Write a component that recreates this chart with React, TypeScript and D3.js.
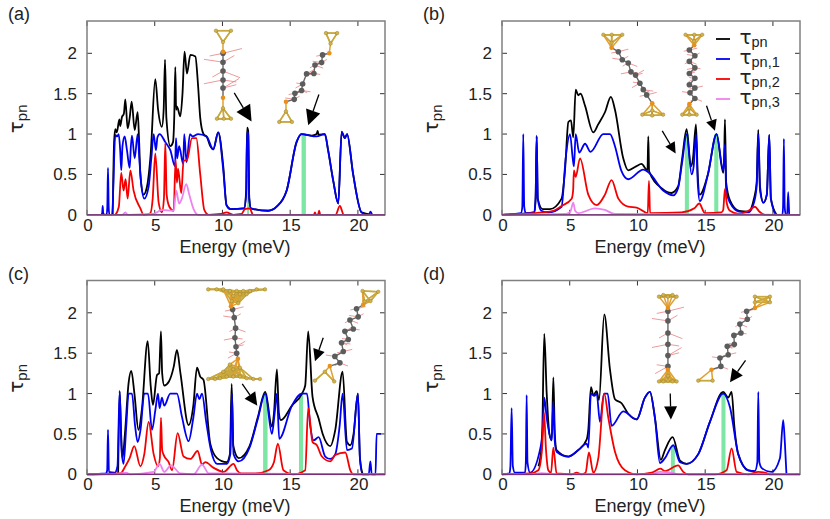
import * as d3 from "d3";

type Pt = [number, number];

const xTicks = [0, 5, 10, 15, 20];
const yTicks = [0, 0.5, 1, 1.5, 2];
const yTickLabels = ["0", "0.5", "1", "1.5", "2"];
const legendLabels = ["pn", "pn,1", "pn,2", "pn,3"];
const colors = ["#000000", "#0000f0", "#f50000", "#ee82ee"];

// panel (a)
const aTotal: Pt[] = [[1.9, 0], [2.0, 0.9], [2.09, 1.06], [2.2, 1.02], [2.39, 1.18], [2.45, 1.1], [2.58, 1.21], [2.72, 1.25], [2.83, 1.43], [3.0, 1.07], [3.15, 1.2], [3.3, 1.4], [3.52, 1.05], [3.74, 1.27], [3.85, 0.9], [3.94, 0.5], [4.18, 0.25], [4.43, 0.35], [4.7, 0.75], [5.04, 1.68], [5.25, 1.3], [5.53, 1.09], [5.66, 1.3], [5.76, 1.92], [5.86, 1.2], [6.15, 0.85], [6.35, 0.9], [6.44, 1.2], [6.52, 1.83], [6.58, 1.3], [6.64, 1.34], [6.89, 1.22], [7.05, 1.5], [7.2, 2.02], [7.38, 1.75], [7.63, 1.98], [8.0, 1.96], [8.2, 1.6], [8.36, 1.2], [8.6, 1.0], [8.86, 0.96], [9.1, 0.85], [9.32, 0.81], [9.69, 1.02], [10.06, 0.6], [10.3, 0.12], [10.6, 0.07], [11.6, 0.08], [11.75, 0.3], [11.82, 1.08], [11.9, 1.04], [11.98, 0.2], [12.1, 0.08], [13.38, 0.05], [14, 0.1], [14.74, 0.3], [15.47, 0.9], [15.84, 1.0], [16.6, 0.98], [16.95, 1.0], [17.03, 1.04], [17.1, 0.99], [17.56, 1.0], [17.8, 0.8], [18.18, 0.42], [18.55, 0.14], [18.8, 1.03], [19.04, 0.95], [19.2, 1.0], [19.65, 0.5], [20.27, 0.03], [21, 0]];
const aCh1: Pt[] = [[1.05, 0], [1.12, 0.02], [1.16, 0.11], [1.2, 0.01], [1.45, 0], [1.5, 0.1], [1.55, 0.58], [1.6, 0.1], [1.65, 0], [1.85, 0], [2.09, 0.99], [2.22, 0.97], [2.34, 1.0], [2.45, 0.8], [2.53, 0.55], [2.62, 0.85], [2.78, 0.97], [2.95, 0.8], [3.15, 0.58], [3.24, 0.85], [3.32, 0.98], [3.52, 0.7], [3.74, 1.0], [3.86, 0.7], [3.99, 0.4], [4.23, 0.2], [4.55, 0.35], [4.75, 0.7], [4.92, 1.0], [5.09, 0.8], [5.2, 0.96], [5.36, 1.0], [5.78, 0.9], [6.15, 0.8], [6.5, 0.6], [6.57, 0.95], [6.66, 0.7], [6.8, 0.85], [7.1, 0.63], [7.18, 1.0], [7.35, 0.65], [7.6, 1.0], [7.8, 0.97], [8.2, 1.0], [8.83, 0.97], [9.32, 0.81], [9.69, 1.02], [10.06, 0.55], [10.3, 0.12], [10.6, 0.07], [11.6, 0.08], [11.75, 0.25], [11.82, 1.03], [11.9, 1.0], [11.98, 0.2], [12.1, 0.08], [13.38, 0.05], [14, 0.1], [14.74, 0.3], [15.47, 0.9], [15.84, 1.0], [16.95, 0.97], [17.56, 1.0], [17.8, 0.8], [18.18, 0.42], [18.55, 0.14], [18.8, 1.02], [19.04, 0.95], [19.2, 1.0], [19.65, 0.5], [20.27, 0.03], [20.8, 0], [20.93, 0.04], [21.05, 0]];
const aCh2: Pt[] = [[2.1, 0], [2.35, 0.1], [2.53, 0.52], [2.7, 0.3], [2.85, 0.44], [3.0, 0.2], [3.2, 0.55], [3.44, 0.3], [3.94, 0.08], [4.18, 0], [4.67, 0.02], [4.85, 0.2], [5.04, 0.76], [5.29, 0.15], [5.53, 0.03], [5.68, 0.2], [5.78, 0.89], [5.88, 0.25], [6.08, 0.1], [6.4, 0.05], [6.54, 0.68], [6.64, 0.4], [6.72, 0.57], [6.96, 0.27], [7.13, 0.67], [7.38, 0.68], [7.75, 0.95], [8.07, 0.95], [8.36, 0.5], [8.66, 0.06], [8.98, 0], [9.9, 0.01], [10.3, 0.03], [10.8, 0], [11.4, 0.01], [11.66, 0.07], [12.0, 0.08], [12.27, 0], [16.75, 0], [16.83, 0.03], [16.9, 0], [17.05, 0], [17.14, 0.05], [17.22, 0], [18.35, 0], [18.67, 0.11], [18.95, 0], [22, 0]];
const aCh3: Pt[] = [[0, 0], [2.6, 0], [2.83, 0.03], [3.0, 0], [4.9, 0.01], [5.53, 0.06], [6.4, 0.05], [6.59, 0.3], [6.8, 0.14], [7.0, 0.2], [7.33, 0.38], [7.55, 0.25], [7.87, 0.07], [8.2, 0], [22, 0]];

// panel (b)
const bTotal: Pt[] = [[0, 0], [2.4, 0.03], [2.48, 0.2], [2.56, 0.98], [2.64, 0.2], [3.0, 0.07], [3.54, 0.07], [4.4, 0.2], [4.65, 0.55], [4.9, 1.15], [5.09, 1.17], [5.26, 0.96], [5.44, 1.55], [5.63, 1.48], [5.8, 1.5], [6.13, 1.35], [6.74, 1.02], [7.1, 1.12], [7.6, 1.27], [8.04, 1.46], [8.34, 1.3], [8.95, 0.7], [9.32, 0.55], [9.9, 0.6], [10.3, 0.63], [10.74, 0.55], [10.8, 0.97], [10.86, 0.54], [11.78, 0.33], [12.5, 0.27], [13, 0.35], [13.3, 0.7], [13.63, 1.06], [13.95, 0.6], [14.1, 0.7], [14.32, 1.12], [14.45, 0.5], [14.6, 0.25], [15.2, 0.5], [15.84, 1.0], [16.33, 0.52], [16.4, 0.7], [16.46, 1.18], [16.55, 0.4], [16.83, 0.18], [17.5, 0.05], [18.18, 0.04], [18.6, 0.2], [18.8, 0.4], [18.92, 1.05], [19.05, 0.35], [19.3, 0.15], [19.55, 0.25], [19.73, 0.99], [19.85, 0.2], [20.27, 0]];
const bCh1: Pt[] = [[0, 0], [1.4, 0.02], [1.5, 0.1], [1.57, 1.0], [1.64, 0.1], [1.75, 0.02], [2.35, 0.03], [2.48, 0.2], [2.56, 0.97], [2.64, 0.2], [2.9, 0.05], [3.42, 0.03], [4.4, 0.1], [4.7, 0.7], [5.02, 1.0], [5.22, 0.7], [5.31, 0.6], [5.44, 1.0], [5.7, 0.77], [6.13, 0.88], [6.54, 0.78], [7.48, 1.0], [7.97, 1.0], [8.34, 0.85], [8.8, 0.55], [9.32, 0.44], [10.43, 0.56], [10.85, 0.52], [11.9, 0.3], [12.64, 0.24], [13, 0.33], [13.3, 0.65], [13.63, 1.0], [14, 0.5], [14.15, 0.6], [14.32, 1.0], [14.45, 0.4], [14.6, 0.17], [15.2, 0.5], [15.84, 1.0], [16.33, 0.55], [16.4, 0.7], [16.46, 0.87], [16.55, 0.3], [16.83, 0.15], [17.5, 0.04], [18.18, 0.03], [18.6, 0.15], [18.8, 0.35], [18.92, 1.0], [19.05, 0.3], [19.3, 0.15], [19.55, 0.25], [19.73, 0.99], [19.85, 0.2], [20.27, 0], [20.7, 0], [20.75, 0.1], [20.81, 0.94], [20.87, 0.1], [20.95, 0], [21.05, 0], [21.13, 0.28], [21.2, 0]];
const bCh2: Pt[] = [[0, 0], [2.93, 0.03], [3.8, 0.05], [4.4, 0.11], [5.14, 0.2], [5.25, 0.3], [5.31, 0.55], [5.44, 0.47], [5.76, 0.7], [6.37, 0.25], [6.99, 0.12], [7.6, 0.25], [8.09, 0.43], [8.59, 0.2], [9.32, 0.1], [9.94, 0.09], [10.76, 0.02], [10.85, 0.42], [10.93, 0.02], [13.26, 0.03], [14.2, 0.08], [14.56, 0.14], [14.98, 0.02], [16.2, 0.03], [16.33, 0.06], [16.46, 0.32], [16.6, 0.14], [16.83, 0.05], [17.5, 0.01], [18.2, 0.05], [18.67, 0.1], [19, 0.04], [19.41, 0], [22, 0]];
const bCh3: Pt[] = [[0, 0], [4.7, 0.01], [5.05, 0.04], [5.26, 0.15], [5.4, 0.05], [5.63, 0.02], [6.86, 0.08], [7.6, 0.06], [8.34, 0.01], [22, 0]];

// panel (c)
const cTotal: Pt[] = [[2.3, 0.02], [2.41, 1.03], [2.52, 0.5], [2.62, 0.2], [2.8, 0.5], [3.07, 1.13], [3.27, 1.28], [3.5, 1.0], [3.8, 0.55], [4.05, 0.8], [4.48, 1.65], [4.7, 1.1], [4.87, 0.86], [5.17, 1.23], [5.32, 1.25], [5.46, 1.77], [5.55, 1.25], [5.7, 1.1], [6.05, 1.15], [6.4, 1.33], [6.64, 1.54], [6.9, 1.25], [7.5, 0.61], [7.85, 0.85], [8.12, 1.32], [8.36, 1.21], [8.6, 1.17], [9.1, 0.38], [9.6, 0.2], [10.3, 0.15], [10.55, 0.25], [10.68, 1.12], [10.8, 0.35], [11.2, 0.2], [12, 0.35], [12.6, 0.7], [13.16, 1.02], [13.65, 0.59], [13.8, 0.75], [14.02, 1.3], [14.17, 0.75], [14.31, 0.67], [15.13, 0.85], [15.87, 1.0], [16.11, 1.1], [16.33, 1.77], [16.65, 0.96], [17.1, 0.69], [17.4, 0.5], [17.96, 0.35], [18.33, 0.55], [18.87, 1.27], [19.19, 0.4], [19.44, 0.36], [19.68, 0.5], [20, 1.0], [20.15, 0.2], [20.35, 0]];
const cCh1: Pt[] = [[0, 0], [1.4, 0.01], [1.49, 0.05], [1.55, 0.55], [1.62, 0.03], [2.05, 0.02], [2.25, 0.1], [2.41, 1.03], [2.55, 0.3], [2.7, 0.13], [2.9, 0.6], [3.07, 1.0], [3.32, 1.0], [3.55, 0.6], [3.74, 0.4], [3.95, 0.55], [4.23, 1.0], [4.5, 1.0], [4.8, 0.55], [5.05, 0.8], [5.24, 1.0], [5.36, 0.82], [5.53, 0.95], [5.7, 0.85], [6.15, 1.0], [6.64, 1.0], [7.0, 0.72], [7.5, 0.41], [7.85, 0.7], [8.12, 1.0], [8.29, 0.93], [8.49, 1.0], [8.8, 0.65], [9.15, 0.3], [9.6, 0.13], [10.33, 0.13], [10.58, 0.25], [10.7, 1.0], [10.82, 0.25], [11.2, 0.16], [12, 0.33], [12.6, 0.68], [13.16, 1.0], [13.65, 0.5], [13.85, 0.75], [14.02, 1.0], [14.19, 0.44], [15.13, 0.85], [15.87, 1.0], [16.24, 1.0], [16.48, 0.6], [16.73, 0.42], [17.1, 0.46], [17.59, 0.22], [17.96, 0.19], [18.33, 0.25], [18.65, 0.6], [18.87, 1.0], [19.19, 0.3], [19.56, 0.32], [20, 1.0], [20.15, 0.2], [20.35, 0], [20.8, 0], [20.92, 0.16], [21.02, 0], [21.3, 0], [21.38, 0.5], [21.7, 0.5]];
const cCh2: Pt[] = [[0, 0], [2.46, 0.01], [2.83, 0.1], [3.15, 0.2], [3.49, 0.35], [3.94, 0.1], [4.23, 0.25], [4.55, 0.65], [4.92, 0.25], [5.25, 0.1], [5.38, 0.2], [5.46, 0.7], [5.55, 0.3], [5.66, 0.24], [6.03, 0.15], [6.28, 0.05], [6.69, 0.51], [7.13, 0.22], [7.63, 0.19], [8.17, 0.29], [8.49, 0.12], [8.73, 0.15], [9.35, 0.08], [10.09, 0.03], [10.82, 0.13], [11.07, 0.05], [11.4, 0.01], [12.42, 0.01], [13.4, 0.05], [13.8, 0.15], [14.09, 0.38], [14.5, 0.05], [15.25, 0], [16.11, 0.05], [16.33, 0.82], [16.65, 0.4], [16.97, 0.36], [17.34, 0.22], [17.96, 0.16], [18.33, 0.24], [19.07, 0.27], [19.44, 0.05], [19.68, 0], [22, 0]];
const cCh3: Pt[] = [[0, 0], [2.09, 0], [2.88, 0.02], [3.2, 0], [4.92, 0.03], [5.36, 0.13], [5.7, 0.03], [6.2, 0.11], [6.9, 0.01], [7.87, 0], [8.49, 0.12], [9.0, 0.01], [22, 0]];

// panel (d)
const dTotal: Pt[] = [[2.7, 0.1], [2.95, 0.4], [3.12, 1.74], [3.3, 1.0], [3.5, 0.5], [3.67, 0.42], [3.79, 1.2], [3.9, 0.5], [4.03, 0.3], [4.9, 0.22], [5.63, 0.3], [6.25, 0.43], [6.37, 0.55], [6.57, 1.08], [6.74, 0.98], [6.99, 1.03], [7.16, 0.92], [7.55, 1.98], [7.97, 1.3], [8.34, 0.93], [8.83, 0.88], [9.32, 0.75], [9.94, 0.68], [10.55, 0.95], [10.92, 1.02], [11.29, 0.7], [11.73, 0.18], [12.03, 0.3], [12.6, 0.46], [13.14, 0.17], [13.63, 0.13], [14.49, 0.25], [15.35, 0.65], [16.33, 1.02], [16.7, 0.95], [16.95, 1.02], [17.15, 0.6], [17.44, 0.25], [18.18, 0.05], [18.67, 0.04]];
const dCh1: Pt[] = [[0, 0], [0.55, 0.01], [0.62, 0.1], [0.71, 0.82], [0.8, 0.1], [0.95, 0.02], [1.7, 0.02], [1.76, 0.15], [1.82, 0.98], [1.88, 0.15], [2.07, 0.02], [2.8, 0.3], [3.0, 0.55], [3.12, 0.95], [3.3, 0.7], [3.67, 0.42], [3.79, 0.9], [3.9, 0.4], [4.03, 0.28], [4.9, 0.22], [5.63, 0.3], [6.25, 0.38], [6.37, 0.33], [6.57, 1.0], [6.81, 0.97], [6.99, 1.0], [7.23, 0.65], [7.53, 1.0], [7.8, 1.0], [8.09, 0.6], [8.95, 0.78], [9.94, 0.68], [10.55, 0.95], [10.92, 1.02], [11.29, 0.7], [11.66, 0.14], [12.03, 0.2], [12.64, 0.36], [13.14, 0.15], [13.63, 0.13], [14.49, 0.25], [15.35, 0.65], [16.33, 1.0], [16.83, 0.83], [17.44, 0.25], [18.18, 0.05], [18.67, 0.04], [18.85, 0.15], [18.92, 1.02], [19.0, 0.15], [19.16, 0.08], [19.9, 0.03], [20.52, 0.2], [20.76, 0.67], [20.88, 0.4], [21, 0]];
const dCh2: Pt[] = [[0, 0], [2.07, 0.01], [2.68, 0.05], [2.95, 0.3], [3.1, 0.76], [3.25, 0.3], [3.42, 0.05], [3.62, 0.02], [3.79, 0.33], [4.03, 0.01], [5.14, 0], [5.51, 0.02], [5.88, 0], [6.17, 0.02], [6.42, 0.27], [6.74, 0.02], [7.11, 0.2], [7.55, 1.0], [7.85, 0.7], [8.34, 0.28], [9.08, 0.05], [9.94, 0], [11.05, 0.02], [11.7, 0.07], [12.03, 0.04], [13.0, 0.11], [13.38, 0.03], [13.75, 0], [15.72, 0], [16.58, 0.05], [16.95, 0.32], [17.32, 0.03], [18.18, 0], [18.92, 0.03], [19.41, 0.02], [19.78, 0], [22, 0]];
const dCh3: Pt[] = [[0, 0], [2.2, 0], [2.93, 0.015], [3.9, 0], [11, 0], [11.66, 0.03], [12.5, 0.02], [13, 0], [22, 0]];

// highlighted channels: energy from, energy to, height
const aBars = [[11.82, 11.96, 0.5], [15.84, 16.16, 1.0]];
const bBars = [[13.5, 13.8, 1.0], [15.67, 15.97, 1.0]];
const cBars = [[13.0, 13.33, 1.0], [15.65, 15.95, 1.0]];
const dBars = [[12.47, 12.76, 0.35], [16.2, 16.5, 1.0]];

// arrows: tail energy, tail tau, tip energy, tip tau, head size
const aArrows = [[10.87, 1.51, 12.15, 1.155, 16], [17.12, 1.49, 16.33, 1.11, 15]];
const bArrows = [[11.83, 1.04, 12.82, 0.76, 11], [15.1, 1.35, 15.72, 1.04, 11]];
const cArrows = [[11.46, 1.12, 12.57, 0.85, 13], [17.44, 1.69, 16.83, 1.4, 12]];
const dArrows = [[12.42, 1.0, 12.47, 0.68, 13], [17.98, 1.41, 16.83, 1.14, 13]];

const a1Au: Pt[] = [[9.52, 2.28], [10.63, 2.28], [10.04, 2.14], [10.04, 1.32], [9.59, 1.19], [10.63, 1.19], [10.1, 1.19]];
const a1S: Pt[] = [[10.04, 2.02], [10.04, 1.45]];
const a1C: Pt[] = [[10.04, 2.0], [10.04, 1.89], [10.04, 1.78], [10.04, 1.67], [10.04, 1.57]];
const a2Au: Pt[] = [[17.64, 2.25], [18.47, 2.25], [17.98, 2.12], [14.69, 1.28], [14.19, 1.15], [15.13, 1.15]];
const a2S: Pt[] = [[17.88, 2.0], [14.69, 1.4]];
const a2C: Pt[] = [[17.39, 1.98], [17.32, 1.885], [16.83, 1.855], [16.75, 1.75], [16.21, 1.745], [15.92, 1.62], [15.84, 1.54], [15.35, 1.505], [15.3, 1.43]];
const b1Au: Pt[] = [[7.48, 2.23], [8.1, 2.23], [8.88, 2.23], [8.09, 2.13], [11.09, 1.29], [10.36, 1.24], [11.09, 1.23], [11.9, 1.24]];
const b1S: Pt[] = [[8.09, 2.07], [11.09, 1.38]];
const b1C: Pt[] = [[8.59, 2.02], [8.88, 1.92], [9.32, 1.88], [9.52, 1.77], [9.86, 1.73], [10.18, 1.63], [10.43, 1.55], [10.68, 1.485]];
const b2Au: Pt[] = [[13.55, 2.23], [14.2, 2.23], [14.78, 2.23], [14.19, 2.15], [13.83, 1.32], [13.31, 1.24], [13.83, 1.24], [14.37, 1.24]];
const b2S: Pt[] = [[14.19, 2.1], [13.83, 1.37]];
const b2C: Pt[] = [[13.83, 2.04], [14.24, 1.97], [13.83, 1.9], [14.24, 1.82], [13.83, 1.75], [14.24, 1.69], [13.83, 1.61], [14.24, 1.57], [13.88, 1.51], [14.24, 1.44]];
const c1Au: Pt[] = [[10.55, 2.27], [11.05, 2.27], [11.54, 2.27], [12.03, 2.27], [10.8, 2.21], [11.29, 2.23], [11.78, 2.23], [11.17, 2.12], [10.68, 2.145], [8.95, 2.29], [9.57, 2.29], [10.06, 2.29], [12.52, 2.29], [13.14, 2.29], [10.55, 1.36], [10.06, 1.27], [10.8, 1.3], [11.29, 1.32], [9.82, 1.19], [10.31, 1.21], [10.8, 1.21], [11.29, 1.21], [11.78, 1.19], [8.95, 1.18], [9.45, 1.18], [12.28, 1.18], [12.77, 1.18]];
const c1S: Pt[] = [[10.63, 2.08], [11.14, 1.43]];
const c1C: Pt[] = [[10.75, 2.04], [10.87, 1.94], [10.97, 1.81], [10.92, 1.69], [11.0, 1.58], [11.05, 1.5]];
const c2Au: Pt[] = [[20.34, 2.27], [21.5, 2.26], [20.93, 2.145], [20.5, 2.14], [17.56, 1.27], [16.83, 1.16], [18.25, 1.15]];
const c2S: Pt[] = [[20.39, 2.1], [17.93, 1.34]];
const c2C: Pt[] = [[19.9, 2.05], [20.02, 1.95], [19.41, 1.91], [19.66, 1.8], [19.04, 1.77], [19.29, 1.67], [18.79, 1.63], [18.92, 1.52], [18.3, 1.46], [18.67, 1.38]];
const d1Au: Pt[] = [[11.59, 2.2], [12.25, 2.2], [12.89, 2.2], [11.91, 2.22], [12.59, 2.22], [12.25, 1.22], [11.59, 1.15], [11.91, 1.15], [12.25, 1.16], [12.59, 1.15], [12.89, 1.15]];
const d1S: Pt[] = [[12.25, 2.06], [12.25, 1.295]];
const d1C: Pt[] = [[12.25, 2.02], [12.25, 1.9], [12.25, 1.75], [12.25, 1.61], [12.25, 1.47], [12.25, 1.336]];
const d2Au: Pt[] = [[18.67, 2.2], [19.78, 2.2], [18.67, 2.13], [19.78, 2.13], [14.49, 1.16], [15.55, 1.16]];
const d2S: Pt[] = [[18.67, 2.06], [15.47, 1.295]];
const d2C: Pt[] = [[18.06, 2.02], [18.11, 1.92], [17.56, 1.86], [17.64, 1.75], [17.12, 1.72], [17.15, 1.61], [16.63, 1.585], [16.7, 1.48], [16.09, 1.44], [16.16, 1.336]];
const hairDirs: Pt[] = [[1, -0.25], [-1, -0.15], [0.9, 0.35], [-1, 0.2], [0.85, -0.5], [-0.8, 0.45], [1, 0.15]];

interface Molecule { au: Pt[]; s: Pt[]; c: Pt[]; hair: number }

const panels = [
  { name: "(a)", left: 87, top: 21, series: [aTotal, aCh1, aCh2, aCh3], bars: aBars, arrows: aArrows, insets: [{ au: a1Au, s: a1S, c: a1C, hair: 19 }, { au: a2Au, s: a2S, c: a2C, hair: 9 }] },
  { name: "(b)", left: 502, top: 21, series: [bTotal, bCh1, bCh2, bCh3], bars: bBars, arrows: bArrows, insets: [{ au: b1Au, s: b1S, c: b1C, hair: 10 }, { au: b2Au, s: b2S, c: b2C, hair: 8 }] },
  { name: "(c)", left: 87, top: 280.5, series: [cTotal, cCh1, cCh2, cCh3], bars: cBars, arrows: cArrows, insets: [{ au: c1Au, s: c1S, c: c1C, hair: 11 }, { au: c2Au, s: c2S, c: c2C, hair: 9 }] },
  { name: "(d)", left: 502, top: 280.5, series: [dTotal, dCh1, dCh2, dCh3], bars: dBars, arrows: dArrows, insets: [{ au: d1Au, s: d1S, c: d1C, hair: 16 }, { au: d2Au, s: d2S, c: d2C, hair: 8 }] },
];

const W = 298;
const H = 193.8;
const sans = "'Liberation Sans', Arial, sans-serif";
const x = d3.scaleLinear().domain([0, 22]).range([0, W]);
const y = d3.scaleLinear().domain([0, 2.4]).range([H, 0]);
const line = d3.line<Pt>().x((d) => x(d[0])).y((d) => y(d[1])).curve(d3.curveMonotoneX);

function near(list: Pt[], other: Pt[], max: number) {
  const out: [Pt, Pt][] = [];
  list.forEach((p) => {
    other.forEach((q) => {
      if (p !== q && Math.hypot(x(p[0]) - x(q[0]), y(p[1]) - y(q[1])) < max) out.push([p, q]);
    });
  });
  return out;
}

function Inset({ m }: { m: Molecule }) {
  const chain = [m.s[0], ...m.c, m.s[1]];
  return (
    <g filter="url(#soft)">
      {near(m.au, m.au, 19).map(([p, q], i) => (
        <line key={i} x1={x(p[0])} y1={y(p[1])} x2={x(q[0])} y2={y(q[1])} stroke="#c9a83e" strokeWidth={1.5} />
      ))}
      {near(m.s, m.au, 19).map(([p, q], i) => (
        <line key={i} x1={x(p[0])} y1={y(p[1])} x2={x(q[0])} y2={y(q[1])} stroke="#e0a030" strokeWidth={1.5} />
      ))}
      {m.c.map((p, i) => {
        const d = hairDirs[i % hairDirs.length];
        const e = hairDirs[(i + 3) % hairDirs.length];
        return (
          <g key={i} stroke="#e88080" strokeWidth={0.8}>
            <line x1={x(p[0])} y1={y(p[1])} x2={x(p[0]) + d[0] * m.hair} y2={y(p[1]) + d[1] * m.hair} />
            <line x1={x(p[0])} y1={y(p[1])} x2={x(p[0]) + e[0] * m.hair * 0.7} y2={y(p[1]) + e[1] * m.hair * 0.7} />
          </g>
        );
      })}
      <path d={d3.line()(chain.map((p) => [x(p[0]), y(p[1])])) ?? ""} fill="none" stroke="#666" strokeWidth={1.4} />
      {m.au.map((p, i) => <circle key={i} cx={x(p[0])} cy={y(p[1])} r={1.8} fill="#d2b24a" stroke="#8c7424" strokeWidth={0.4} />)}
      {m.c.map((p, i) => <circle key={i} cx={x(p[0])} cy={y(p[1])} r={2.8} fill="#5c5c5c" />)}
      {m.s.map((p, i) => <circle key={i} cx={x(p[0])} cy={y(p[1])} r={2.3} fill="#e8901f" />)}
    </g>
  );
}

function Arrow({ a }: { a: number[] }) {
  const x0 = x(a[0]);
  const y0 = y(a[1]);
  const x1 = x(a[2]);
  const y1 = y(a[3]);
  const size = a[4];
  const len = Math.hypot(x1 - x0, y1 - y0);
  const ux = (x1 - x0) / len;
  const uy = (y1 - y0) / len;
  const bx = x1 - ux * size;
  const by = y1 - uy * size;
  const hw = size * 0.5;
  return (
    <g>
      <line x1={x0} y1={y0} x2={bx} y2={by} stroke="#000" strokeWidth={1.3} />
      <polygon points={`${x1},${y1} ${bx - uy * hw},${by + ux * hw} ${bx + uy * hw},${by - ux * hw}`} fill="#000" />
    </g>
  );
}

export default function App() {
  return (
    <svg width={830} height={519} viewBox="0 0 830 519" style={{ position: "absolute", left: 0, top: 0 }} fontFamily={sans}>
      <defs>
        <filter id="soft" x="-10%" y="-10%" width="120%" height="120%">
          <feGaussianBlur stdDeviation={0.35} />
        </filter>
      </defs>
      <rect width={830} height={519} fill="#fff" />
      {panels.map((p) => (
        <g key={p.name} transform={`translate(${p.left},${p.top})`}>
          <text x={-79} y={-1} fontSize={18} fill="#222">{p.name}</text>
          {p.bars.map((b, i) => (
            <rect key={i} x={x(b[0])} y={y(b[2])} width={x(b[1]) - x(b[0])} height={H - y(b[2])} fill="#7ee6a4" />
          ))}
          {xTicks.map((t) => (
            <g key={t}>
              <line x1={x(t)} x2={x(t)} y1={H} y2={H - 5} stroke="#333" />
              <line x1={x(t)} x2={x(t)} y1={0} y2={5} stroke="#333" />
              <text x={x(t) + 1} y={H + 16} textAnchor="middle" fontSize={17} fill="#222">{t}</text>
            </g>
          ))}
          {yTicks.map((t, i) => (
            <g key={t}>
              <line x1={0} x2={5} y1={y(t)} y2={y(t)} stroke="#333" />
              <line x1={W} x2={W - 5} y1={y(t)} y2={y(t)} stroke="#333" />
              <text x={-10} y={y(t) + 6} textAnchor="end" fontSize={17} fill="#222">{yTickLabels[i]}</text>
            </g>
          ))}
          <text x={W / 2 - 1} y={H + 38} textAnchor="middle" fontSize={18} fill="#222">Energy (meV)</text>
          <text transform={`translate(-64,${H / 2 + 1}) rotate(-90)`} textAnchor="middle" fontSize={20} fill="#222">
            <tspan fontFamily="'DejaVu Sans'">τ</tspan>
            <tspan fontSize={15} dy={4}>pn</tspan>
          </text>
          {p.series.map((s, i) => (
            <path key={i} d={line(s) ?? ""} fill="none" stroke={colors[i]} strokeWidth={1.8} strokeLinejoin="round" />
          ))}
          <rect x={0} y={0} width={W} height={H} fill="none" stroke="#808080" strokeWidth={1.5} />
          <line x1={0} x2={W} y1={H} y2={H} stroke="#7a2f7a" strokeWidth={1.2} />
          {p.insets.map((m, i) => <Inset key={i} m={m} />)}
          {p.arrows.map((a, i) => <Arrow key={i} a={a} />)}
        </g>
      ))}
      {legendLabels.map((l, i) => (
        <g key={l} transform={`translate(716,${39 + i * 20})`}>
          <line x1={0} x2={14} y1={0} y2={0} stroke={colors[i]} strokeWidth={1.8} />
          <text x={23.5} y={5} fontSize={20} fill="#222">
            <tspan fontFamily="'DejaVu Sans'">τ</tspan>
            <tspan fontSize={14.5} dy={3}>{l}</tspan>
          </text>
        </g>
      ))}
    </svg>
  );
}
